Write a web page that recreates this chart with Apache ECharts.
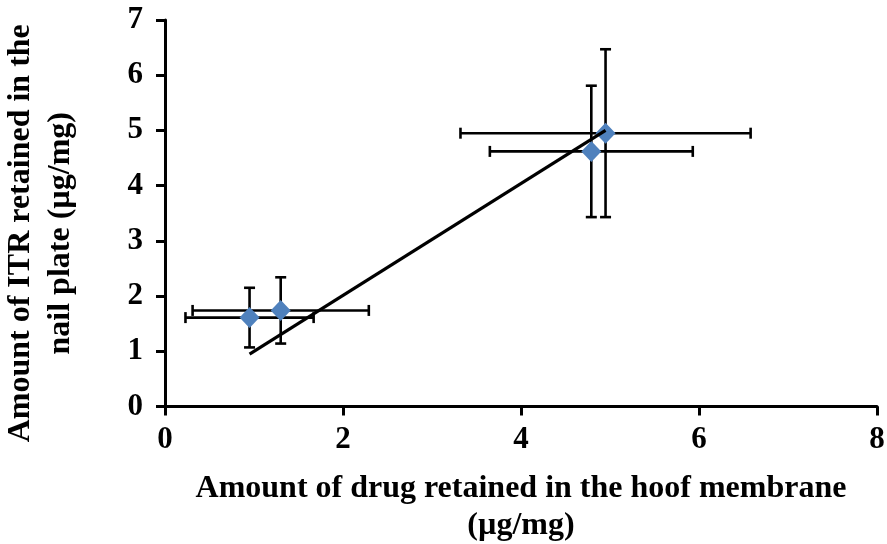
<!DOCTYPE html>
<html>
<head>
<meta charset="utf-8">
<script src="https://cdn.jsdelivr.net/npm/echarts@6/dist/echarts.min.js"></script>
<style>
html,body{margin:0;padding:0;background:#fff;}
#chart{width:887px;height:544px;}
</style>
</head>
<body>
<div id="chart"></div>
<script>
// Data
const xVals = [0.95, 1.30, 4.79, 4.95];
const yVals = [1.61, 1.74, 4.62, 4.95];
const xErr = [0.72, 0.99, 1.14, 1.63];
const yErr = [0.54, 0.60, 1.19, 1.52];
const trendX = [0.95, 4.95];
const trendY = [0.95, 5.00];
const xTicks = [0, 2, 4, 6, 8];
const yTicks = [0, 1, 2, 3, 4, 5, 6, 7];
const xTitle = 'Amount of drug retained in the hoof membrane\n(µg/mg)';
const yTitle = 'Amount of ITR retained in the\nnail plate (µg/mg)';

const FONT = '"Liberation Serif", "Times New Roman", serif';
const points = xVals.map((x, i) => [x, yVals[i], xErr[i], yErr[i]]);
const trend = trendX.map((x, i) => [x, trendY[i]]);

const chart = echarts.init(document.getElementById('chart'), null, {renderer: 'canvas'});
const axisCommon = {
  type: 'value',
  splitLine: {show: false},
  axisLine: {show: true, onZero: false, lineStyle: {color: '#000', width: 3}},
  axisTick: {show: true, inside: false, length: 9, lineStyle: {color: '#000', width: 3}},
  axisLabel: {color: '#000', fontFamily: FONT, fontWeight: 'bold', fontSize: 31},
  nameLocation: 'middle',
  nameTextStyle: {color: '#000', fontFamily: FONT, fontWeight: 'bold', fontSize: 32}
};
chart.setOption({
  animation: false,
  backgroundColor: '#fff',
  grid: {left: 165, top: 20, right: 10, bottom: 137.5, containLabel: false, outerBoundsMode: 'none'},
  xAxis: Object.assign({}, axisCommon, {
    min: xTicks[0], max: xTicks[xTicks.length - 1], interval: xTicks[1] - xTicks[0],
    name: xTitle, nameGap: 64,
    axisLabel: Object.assign({}, axisCommon.axisLabel, {margin: 18}),
    nameTextStyle: Object.assign({}, axisCommon.nameTextStyle, {lineHeight: 37})
  }),
  yAxis: Object.assign({}, axisCommon, {
    min: yTicks[0], max: yTicks[yTicks.length - 1], interval: yTicks[1] - yTicks[0],
    name: yTitle, nameGap: 84,
    axisLabel: Object.assign({}, axisCommon.axisLabel, {margin: 22}),
    nameTextStyle: Object.assign({}, axisCommon.nameTextStyle, {lineHeight: 40, padding: [0, 40, 0, 0]})
  }),
  series: [
    {
      type: 'custom',
      z: 1,
      data: points,
      renderItem: function (params, api) {
        const x = api.value(0), y = api.value(1), ex = api.value(2), ey = api.value(3);
        const l = api.coord([x - ex, y]);
        const r = api.coord([x + ex, y]);
        const t = api.coord([x, y + ey]);
        const b = api.coord([x, y - ey]);
        const cap = 5.5;
        const style = {stroke: '#000', lineWidth: 2.6};
        return {
          type: 'group',
          children: [
            {type: 'line', shape: {x1: l[0], y1: l[1], x2: r[0], y2: r[1]}, style: style},
            {type: 'line', shape: {x1: l[0], y1: l[1] - cap, x2: l[0], y2: l[1] + cap}, style: style},
            {type: 'line', shape: {x1: r[0], y1: r[1] - cap, x2: r[0], y2: r[1] + cap}, style: style},
            {type: 'line', shape: {x1: t[0], y1: t[1], x2: b[0], y2: b[1]}, style: style},
            {type: 'line', shape: {x1: t[0] - cap, y1: t[1], x2: t[0] + cap, y2: t[1]}, style: style},
            {type: 'line', shape: {x1: b[0] - cap, y1: b[1], x2: b[0] + cap, y2: b[1]}, style: style}
          ]
        };
      }
    },
    {
      type: 'scatter',
      z: 2,
      data: points.map(p => [p[0], p[1]]),
      symbol: 'diamond',
      symbolSize: [20, 21],
      itemStyle: {color: '#4F81BD', opacity: 1}
    },
    {
      type: 'line',
      z: 3,
      data: trend,
      symbol: 'none',
      lineStyle: {color: '#000', width: 3.2}
    }
  ]
});
</script>
</body>
</html>
